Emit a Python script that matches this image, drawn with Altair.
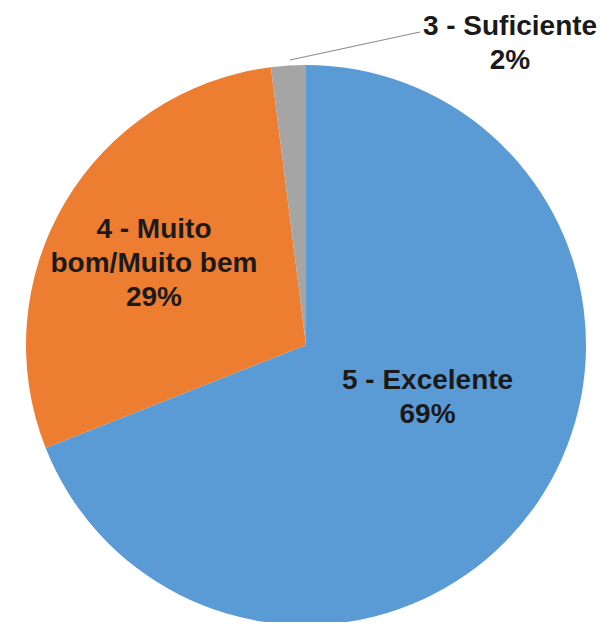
import altair as alt
import pandas as pd

categories = ["5 - Excelente", "4 - Muito bom/Muito bem", "3 - Suficiente"]
label_text = ["5 - Excelente\n69%", "4 - Muito\nbom/Muito bem\n29%", "3 - Suficiente\n2%"]
values = [69, 29, 2]
order = [1, 2, 3]
colors = ["#5B9BD5", "#ED7D31", "#A5A5A5"]

df = pd.DataFrame({"cat": categories, "value": values, "ord": order, "label": label_text})

CX, CY, R = 298, 337, 280
FONT = "Liberation Sans"

base = alt.Chart(df).encode(
    theta=alt.Theta("value:Q", stack=True),
    order=alt.Order("ord:Q"),
)

pie = base.mark_arc(strokeWidth=0).encode(
    color=alt.Color("cat:N", scale=alt.Scale(domain=categories, range=colors), legend=None),
    x=alt.value(CX), y=alt.value(CY), radius=alt.value(R),
)

def inner_label(cat, r, dx, dy):
    return base.mark_text(
        font=FONT, fontSize=28, fontWeight="bold", color="#1a1a1a",
        lineBreak="\n", lineHeight=34, align="center", baseline="middle",
        dx=dx, dy=dy,
    ).encode(
        x=alt.value(CX), y=alt.value(CY), radius=alt.value(r),
        text=alt.condition(alt.datum.cat == cat, "label:N", alt.value("")),
    )

lab_exc = inner_label(categories[0], 130, 14, -37)
lab_mb = inner_label(categories[1], 172, -4, -27)

leader = alt.Chart(pd.DataFrame({"k": [0]})).mark_rule(color="#8c8c8c", strokeWidth=1.2).encode(
    x=alt.value(282), y=alt.value(52), x2=alt.value(412), y2=alt.value(24)
)
lab_suf = alt.Chart(df[df.cat == categories[2]]).mark_text(
    font=FONT, fontSize=28, fontWeight="bold", color="#1a1a1a",
    lineBreak="\n", lineHeight=34, align="center", baseline="middle",
).encode(x=alt.value(502), y=alt.value(19), text="label:N")

chart = alt.layer(pie, lab_exc, lab_mb, leader, lab_suf).properties(
    width=595, height=614, autosize=alt.AutoSizeParams(type="none"), padding=0,
    background="white",
).configure_view(strokeWidth=0)

chart.save("out.html", embed_options={"renderer": "svg", "actions": False})
